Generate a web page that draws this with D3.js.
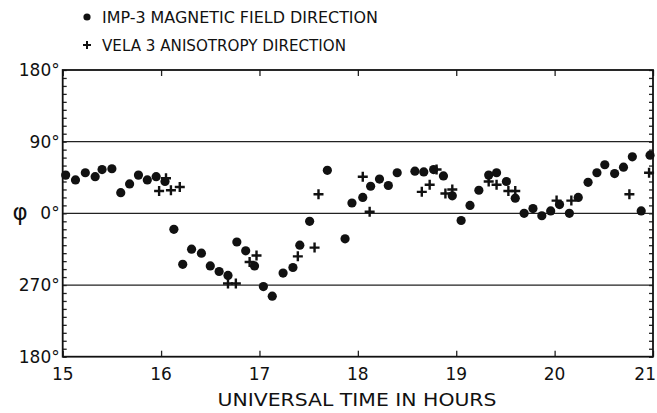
<!DOCTYPE html>
<html>
<head>
<meta charset="utf-8">
<script src="https://cdn.jsdelivr.net/npm/d3@7"></script>
<style>
  body { margin: 0; background: #fff; }
  text { font-family: "DejaVu Sans", sans-serif; fill: #111; }
</style>
</head>
<body>
<div id="canvas"></div>
<script>
// IMP-3 magnetic field direction (UT hours, phi in degrees 0-360)
const impHours = [15.03, 15.13, 15.23, 15.33, 15.40, 15.50, 15.59, 15.68, 15.77, 15.86, 15.95, 16.04,
  16.13, 16.22, 16.31, 16.41, 16.50, 16.59, 16.68, 16.77, 16.86, 16.95, 17.04, 17.13, 17.24, 17.34,
  17.41, 17.51, 17.69, 17.87, 17.94, 18.05, 18.13, 18.22, 18.31, 18.40, 18.58, 18.67, 18.77, 18.87,
  18.96, 19.05, 19.14, 19.23, 19.33, 19.41, 19.51, 19.60, 19.69, 19.78, 19.87, 19.96, 20.05, 20.15,
  20.24, 20.34, 20.43, 20.51, 20.61, 20.70, 20.79, 20.88, 20.97];
const impPhi = [48, 42, 51, 46, 55, 56, 26, 37, 48, 42, 46, 40,
  340, 296, 315, 310, 294, 287, 282, 324, 313, 294, 268, 256, 285, 292,
  320, 350, 54, 328, 13, 20, 34, 43, 35, 51, 53, 52, 55, 47,
  22, 351, 10, 29, 48, 51, 40, 19, 0, 6, 357, 3, 11, 0,
  20, 39, 51, 61, 50, 58, 71, 3, 73];

// VELA 3 anisotropy direction
const velaHours = [15.98, 16.05, 16.10, 16.19, 16.68, 16.76, 16.90, 16.97, 17.39, 17.56, 17.60,
  18.05, 18.12, 18.65, 18.73, 18.80, 18.89, 18.96, 19.33, 19.41, 19.53, 19.60, 20.02, 20.17, 20.76, 20.96];
const velaPhi = [28, 44, 29, 33, 272, 272, 299, 307, 306, 317, 24,
  46, 2, 27, 36, 55, 25, 30, 40, 36, 28, 28, 16, 16, 24, 51];

const xTicks = [15, 16, 17, 18, 19, 20, 21];
const yTicks = [-180, -90, 0, 90, 180];
const gridLines = [-90, 0, 90];

const width = 657, height = 413;
const margin = { top: 70, left: 62.7, bottom: 56.3, right: 4 };
const iwidth = width - margin.left - margin.right;
const iheight = height - margin.top - margin.bottom;

// phi above 180 is plotted below the 0 line
const wrap = v => (v > 180 ? v - 360 : v);
const fmtDeg = v => ((v + 360) % 360) + "°";

const svg = d3.select("#canvas").append("svg")
  .attr("width", width).attr("height", height);

const g = svg.append("g").attr("transform", `translate(${margin.left},${margin.top})`);

const x = d3.scaleLinear().domain([15, 21]).range([0, iwidth]);
const y = d3.scaleLinear().domain([-180, 180]).range([iheight, 0]);

// grid lines
g.selectAll(".grid").data(gridLines).enter().append("line")
  .attr("x1", 0).attr("x2", iwidth)
  .attr("y1", d => y(d)).attr("y2", d => y(d))
  .attr("stroke", "#222").attr("stroke-width", 1.3);

// inner ticks: x at each hour (top and bottom), y every 10 deg (left and right)
const xAxisB = d3.axisBottom(x).tickValues(xTicks).tickSize(-6).tickFormat("");
const xAxisT = d3.axisTop(x).tickValues(xTicks).tickSize(-6).tickFormat("");
const minor = d3.range(-180, 181, 10);
const yAxisL = d3.axisLeft(y).tickValues(minor).tickSizeInner(-4).tickSizeOuter(0).tickFormat("");
const yAxisR = d3.axisRight(y).tickValues(minor).tickSizeInner(-4).tickSizeOuter(0).tickFormat("");

g.append("g").attr("transform", `translate(0,${iheight})`).call(xAxisB);
g.append("g").call(xAxisT);
g.append("g").call(yAxisL);
g.append("g").attr("transform", `translate(${iwidth},0)`).call(yAxisR);
g.selectAll(".domain").remove();
g.selectAll(".tick line").attr("stroke", "#222").attr("stroke-width", 1.3);

// frame
g.append("rect").attr("width", iwidth).attr("height", iheight)
  .attr("fill", "none").attr("stroke", "#111").attr("stroke-width", 1.8);

// tick labels (last one pulled in so it stays on the page)
g.selectAll(".xl").data(xTicks).enter().append("text")
  .attr("x", d => d === 21 ? x(d) + 3 : x(d)).attr("y", iheight + 23)
  .attr("text-anchor", d => d === 21 ? "end" : "middle")
  .attr("font-size", 17).text(d => d);

g.selectAll(".yl").data(yTicks).enter().append("text")
  .attr("x", -3).attr("y", d => y(d) + 6)
  .attr("text-anchor", "end").attr("font-size", 17).text(fmtDeg);

svg.append("text").attr("x", 20).attr("y", margin.top + y(0) + 7)
  .attr("text-anchor", "middle").attr("font-size", 23).text("φ");

svg.append("text").attr("x", 357).attr("y", 406)
  .attr("text-anchor", "middle").attr("font-size", 17)
  .attr("textLength", 279).attr("lengthAdjust", "spacingAndGlyphs")
  .text("UNIVERSAL TIME IN HOURS");

// data
const imp = impHours.map((h, i) => ({ h, v: wrap(impPhi[i]) }));
const vela = velaHours.map((h, i) => ({ h, v: wrap(velaPhi[i]) }));

g.selectAll(".dot").data(imp).enter().append("circle")
  .attr("cx", d => x(d.h)).attr("cy", d => y(d.v)).attr("r", 4.6)
  .attr("fill", "#111");

const plus = s => `M${-s},0H${s}M0,${-s}V${s}`;
g.selectAll(".cross").data(vela).enter().append("path")
  .attr("d", plus(5))
  .attr("transform", d => `translate(${x(d.h)},${y(d.v)})`)
  .attr("stroke", "#111").attr("stroke-width", 2.4);

// legend
svg.append("circle").attr("cx", 87).attr("cy", 17).attr("r", 3.6).attr("fill", "#111");
svg.append("text").attr("x", 102).attr("y", 23).attr("font-size", 16)
  .attr("textLength", 276).attr("lengthAdjust", "spacingAndGlyphs")
  .text("IMP-3 MAGNETIC FIELD DIRECTION");
svg.append("path").attr("d", plus(4))
  .attr("transform", "translate(87,45)")
  .attr("stroke", "#111").attr("stroke-width", 2);
svg.append("text").attr("x", 102).attr("y", 51).attr("font-size", 16)
  .attr("textLength", 244).attr("lengthAdjust", "spacingAndGlyphs")
  .text("VELA 3 ANISOTROPY DIRECTION");
</script>
</body>
</html>
